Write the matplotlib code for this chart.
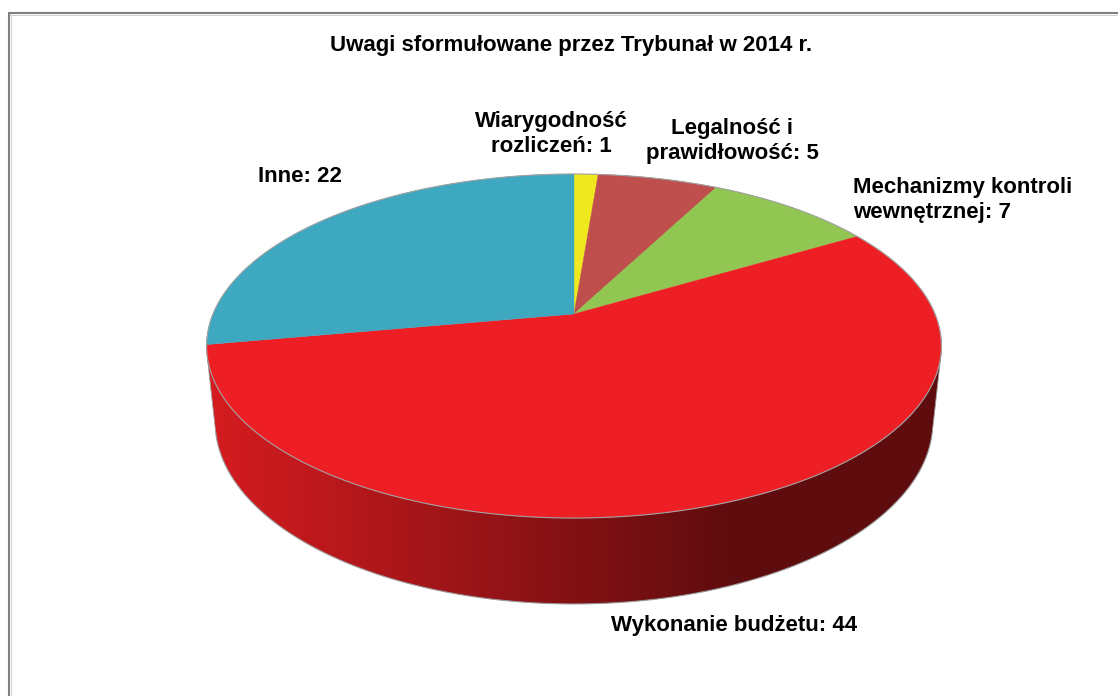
import numpy as np
import matplotlib
matplotlib.use('Agg')
import matplotlib.pyplot as plt
from matplotlib.patches import Polygon
from matplotlib.colors import to_rgb

plt.rcParams['font.family'] = ['Liberation Sans', 'DejaVu Sans']

# dane
categories = ['Wiarygodność\nrozliczeń', 'Legalność i\nprawidłowość',
              'Mechanizmy kontroli\nwewnętrznej', 'Wykonanie budżetu', 'Inne']
values = [1, 5, 7, 44, 22]
colors = ['#F0E81E', '#BE4F4C', '#92C652', '#EE1F24', '#3FA8C1']
title = 'Uwagi sformułowane przez Trybunał w 2014 r.'

# rozmieszczenie etykiet (piksele)
label_xy = [(551, 134), (732, 141), (853, 200), (734, 625), (300, 176)]
label_ha = ['center', 'center', 'left', 'center', 'center']

# kamera 3D
F, D = 1722.0, 4.77
phi = np.arcsin(0.46)
cx, cy = 574.0, 314.0
h = 0.239


def project(t, z):
    x, y = np.cos(t), np.sin(t)
    depth = D + y * np.cos(phi) - z * np.sin(phi)
    up = y * np.sin(phi) + z * np.cos(phi)
    return cx + F * x / depth, cy - F * up / depth


W, H = 1118, 696
fig = plt.figure(figsize=(W / 100, H / 100), dpi=100)
ax = fig.add_axes([0, 0, 1, 1])

total = sum(values)
bounds = np.deg2rad(90 - np.cumsum([0] + values) * 360.0 / total)

# bok walca (widoczny fragment)
s = np.arcsin(1.0 / (D * np.cos(phi)))
vis_lo, vis_hi = np.pi + s, 2 * np.pi - s
xs = np.arange(W)
shade = np.interp(xs, [205, 730, W], [0.9, 0.4, 0.4])
for i in range(len(values)):
    a0, a1 = bounds[i + 1], bounds[i]
    # sprowadzenie do zakresu widocznego
    for k in (-1, 0, 1):
        lo = max(a0 + 2 * np.pi * k, vis_lo)
        hi = min(a1 + 2 * np.pi * k, vis_hi)
        if hi <= lo:
            continue
        t = np.linspace(lo, hi, 200)
        tx, ty = project(t, 0)
        bx, by = project(t[::-1], -h)
        poly = Polygon(np.column_stack([np.r_[tx, bx], np.r_[ty, by]]),
                       closed=True, facecolor='none', edgecolor='none')
        ax.add_patch(poly)
        rgb = np.array(to_rgb(colors[i]))
        img = (shade[:, None] * rgb[None, :])[None, :, :]
        im = ax.imshow(img, extent=(0, W, 650, 250), aspect='auto',
                       interpolation='bilinear', zorder=1)
        im.set_clip_path(poly)
        ax.plot(bx, by, color='#9a9a9a', lw=0.8, zorder=2)
        ax.plot([tx[0], bx[-1]], [ty[0], by[-1]], color='#9a9a9a', lw=0.6, zorder=2)
        ax.plot([tx[-1], bx[0]], [ty[-1], by[0]], color='#9a9a9a', lw=0.6, zorder=2)

# górna powierzchnia
for i in range(len(values)):
    t = np.linspace(bounds[i], bounds[i + 1], 300)
    px, py = project(t, 0)
    pts = np.column_stack([np.r_[cx, px], np.r_[cy, py]])
    ax.add_patch(Polygon(pts, closed=True, facecolor=colors[i],
                         edgecolor=colors[i], lw=0.3, zorder=3))

t = np.linspace(0, 2 * np.pi, 720)
ex, ey = project(t, 0)
ax.plot(ex, ey, color='#a0a0a0', lw=0.8, zorder=4)

# etykiety
for cat, val, (lx, ly), ha in zip(categories, values, label_xy, label_ha):
    ax.text(lx, ly, f'{cat}: {val}', ha=ha, va='center', multialignment=ha,
            fontsize=16, fontweight='bold', color='black', zorder=5)

ax.text(571, 46, title, ha='center', va='center', fontsize=16,
        fontweight='bold', color='black')

# ramka
ax.plot([9, 9], [13, H + 5], color='#808080', lw=1.5, solid_capstyle='butt')
ax.plot([8, W + 5], [13, 13], color='#808080', lw=1.5, solid_capstyle='butt')
ax.plot([10.5, 10.5], [14.5, H + 5], color='#cfcfcf', lw=0.7)
ax.plot([10, W + 5], [14.5, 14.5], color='#cfcfcf', lw=0.7)

ax.set_xlim(0, W)
ax.set_ylim(H, 0)
ax.axis('off')

plt.savefig('out.png', dpi=100)
